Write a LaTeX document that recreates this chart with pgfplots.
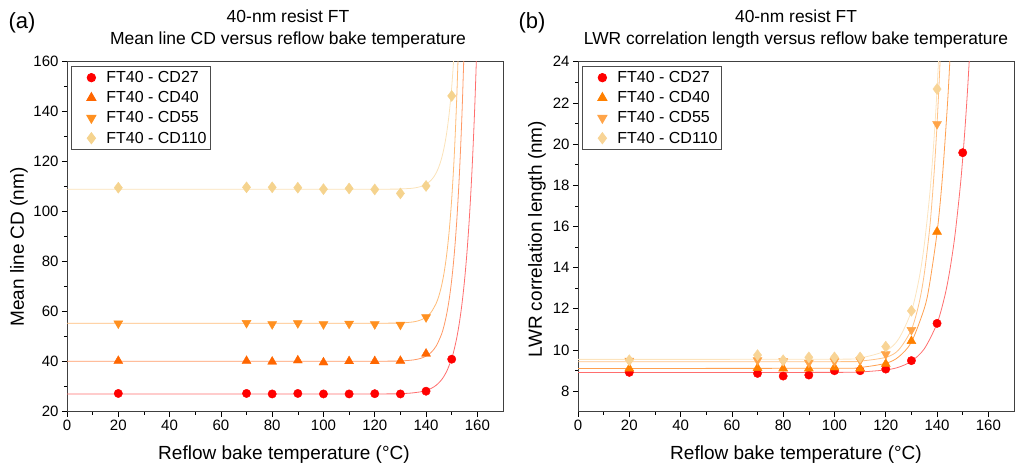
\documentclass[border=0pt]{standalone}
\usepackage{pgfplots}
\pgfplotsset{compat=1.18}
\usepackage{fontspec}
\setmainfont{Liberation Sans}
\definecolor{m27}{HTML}{FF0000}\definecolor{l27}{HTML}{FF6E6E}
\definecolor{m40a}{HTML}{FF6600}\definecolor{l40a}{HTML}{FF9966}
\definecolor{m55a}{HTML}{FF9020}\definecolor{l55a}{HTML}{FFBC78}
\definecolor{m110a}{HTML}{F5D38E}\definecolor{l110a}{HTML}{FBE2B8}
\definecolor{m40b}{HTML}{FF8000}\definecolor{l40b}{HTML}{FFA050}
\definecolor{m55b}{HTML}{FFA448}\definecolor{l55b}{HTML}{FFC286}
\definecolor{m110b}{HTML}{F8D496}\definecolor{l110b}{HTML}{FCE4BE}
\pgfplotsset{
  myaxis/.style={
    scale only axis, width=436pt, height=350pt,
    xmin=0, xmax=170, xtick={0,20,...,160}, minor x tick num=1,
    axis line style={draw=black!75}, tick style={black, line width=0.6pt},
    major tick length=5pt, minor tick length=3pt,
    tick align=outside, xtick pos=bottom, ytick pos=left,
    /pgf/number format/assume math mode=true,
    tick label style={font=\fontsize{15}{15}\selectfont},
    legend cell align=left,
    legend style={at={(0.009,0.988)}, anchor=north west, draw=black!70, line width=0.9pt,
      font=\fontsize{16}{19}\selectfont, inner xsep=2pt, inner ysep=3pt, row sep=3.5pt},
    legend image code/.code={\path[draw=none,fill=none] (0pt,-4pt) rectangle (31pt,4pt); \draw plot coordinates {(18pt,0pt)};},
  },
  fitline/.style={no markers, smooth, line width=0.8pt, forget plot},
}
\begin{document}
\begin{tikzpicture}
\useasboundingbox (0pt,0pt) rectangle (1021pt,470pt);
% ---------- (a)
\begin{axis}[myaxis, at={(67pt,58.3pt)}, anchor=south west,
  ymin=20, ymax=160, ytick={20,40,...,160}, minor y tick num=1]
\addplot[fitline, l27] coordinates {(0,27.1) (120,27.11) (130,27.24) (134,27.44) (138,27.97) (140,28.49) (142,29.31) (144,30.62) (146,32.7) (148,36.02) (150,41.3) (151,45.02) (152,49.71) (153,55.63) (154,63.1) (155,72.5) (156,84.4) (157,99.4) (158,118.35) (159,142.3) (160,172.4)};
\addplot[fitline, l40a] coordinates {(0,40.2) (120,40.21) (130,40.33) (134,40.58) (136,40.87) (138,41.36) (140,42.22) (142,43.72) (144,46.34) (146,50.89) (147,54.32) (148,58.85) (149,64.8) (150,72.7) (151,83.1) (152,96.8) (153,115.0) (154,138.9) (155,170.5)};
\addplot[fitline, l55a] coordinates {(0,55.4) (120,55.41) (130,55.52) (134,55.79) (136,56.11) (138,56.71) (140,57.8) (142,59.8) (144,63.47) (145,66.32) (146,70.18) (147,75.4) (148,82.5) (149,92.1) (150,105.1) (151,122.6) (152,146.5) (153,178.7)};
\addplot[fitline, l110a] coordinates {(0,109.0) (120,109.0) (126,109.03) (130,109.1) (134,109.32) (136,109.59) (138,110.08) (140,110.97) (142,112.61) (143,113.89) (144,115.62) (145,117.97) (146,121.14) (147,125.44) (148,131.25) (149,139.13) (150,149.8) (151,164.2)};
\addplot[only marks, mark=*, mark size=4.2pt, m27, mark options={draw=m27, fill=m27}] coordinates {(20,27.3) (70,27.3) (80,27.1) (90,27.3) (100,27.1) (110,27.1) (120,27.2) (130,27.1) (140,28.2) (150,41.0)};
\addlegendentry{FT40 - CD27}
\addplot[only marks, mark=triangle*, mark size=5.2pt, m40a, mark options={draw=m40a, fill=m40a}] coordinates {(20,40.3) (70,40.3) (80,40.0) (90,40.5) (100,39.7) (110,40.2) (120,40.2) (130,40.3) (140,43.2)};
\addlegendentry{FT40 - CD40}
\addplot[only marks, mark=triangle*, mark size=5.2pt, m55a, mark options={draw=m55a, fill=m55a, rotate=180}] coordinates {(20,55.3) (70,55.5) (80,55.0) (90,55.4) (100,55.0) (110,55.2) (120,55.0) (130,54.8) (140,57.8)};
\addlegendentry{FT40 - CD55}
\addplot[only marks, mark=diamond*, mark size=5.5pt, m110a, mark options={draw=m110a, fill=m110a}] coordinates {(20,109.6) (70,109.75) (80,109.75) (90,109.6) (100,109.0) (110,109.3) (120,108.9) (130,107.3) (140,110.3) (150,146.3)};
\addlegendentry{FT40 - CD110}
\end{axis}
% ---------- (b)
\begin{axis}[myaxis, at={(578pt,58.3pt)}, anchor=south west,
  ymin=7, ymax=24, ytick={8,10,...,24}, minor y tick num=1]
\addplot[fitline, l27] coordinates {(0,8.9) (100,8.91) (110,8.93) (120,9.03) (125,9.16) (130,9.45) (135,10.05) (140,11.29) (143,12.61) (145,13.89) (147,15.59) (149,17.88) (150,19.3) (151,20.95) (152,22.86) (153,25.07)};
\addplot[fitline, l40b] coordinates {(0,9.1) (100,9.11) (110,9.15) (120,9.35) (125,9.66) (130,10.38) (135,12.01) (137,13.14) (140,15.7) (142,18.26) (144,21.82) (145,24.08) (146,26.75)};
\addplot[fitline, l55b] coordinates {(0,9.43) (100,9.43) (110,9.46) (120,9.64) (125,10.0) (130,10.99) (133,12.28) (135,13.68) (137,15.76) (138,17.17) (139,18.88) (140,20.97) (141,23.52) (142,26.65)};
\addplot[fitline, l110b] coordinates {(0,9.54) (100,9.55) (110,9.61) (120,9.96) (125,10.53) (130,11.88) (133,13.47) (135,15.09) (137,17.37) (138,18.84) (139,20.59) (140,22.67) (141,25.14)};
\addplot[only marks, mark=*, mark size=4.2pt, m27, mark options={draw=m27, fill=m27}] coordinates {(20,8.91) (70,8.86) (80,8.73) (90,8.78) (100,8.99) (110,8.99) (120,9.07) (130,9.48) (140,11.29) (150,19.58)};
\addlegendentry{FT40 - CD27}
\addplot[only marks, mark=triangle*, mark size=5.2pt, m40b, mark options={draw=m40b, fill=m40b}] coordinates {(20,9.1) (70,9.12) (80,9.1) (90,9.1) (100,9.15) (110,9.1) (120,9.32) (130,10.43) (140,15.74)};
\addlegendentry{FT40 - CD40}
\addplot[only marks, mark=triangle*, mark size=5.2pt, m55b, mark options={draw=m55b, fill=m55b, rotate=180}] coordinates {(20,9.48) (70,9.5) (80,9.45) (90,9.38) (100,9.45) (110,9.5) (120,9.79) (130,10.97) (140,20.97)};
\addlegendentry{FT40 - CD55}
\addplot[only marks, mark=diamond*, mark size=5.5pt, m110b, mark options={draw=m110b, fill=m110b}] coordinates {(20,9.5) (70,9.75) (80,9.5) (90,9.64) (100,9.64) (110,9.64) (120,10.16) (130,11.9) (140,22.67)};
\addlegendentry{FT40 - CD110}
\end{axis}
% ---------- texts
\node[font=\fontsize{22}{22}\selectfont] at (22pt,447pt) {(a)};
\node[font=\fontsize{22}{22}\selectfont] at (532pt,447pt) {(b)};
\node[font=\fontsize{17.5}{17.5}\selectfont] at (288pt,454pt) {40-nm resist FT};
\node[font=\fontsize{17.5}{17.5}\selectfont] at (288pt,430pt) {Mean line CD versus reflow bake temperature};
\node[font=\fontsize{17.4}{17.4}\selectfont] at (796pt,454pt) {40-nm resist FT};
\node[font=\fontsize{17.4}{17.4}\selectfont] at (796pt,430pt) {LWR correlation length versus reflow bake temperature};
\node[font=\fontsize{19}{19}\selectfont] at (284pt,15pt) {Reflow bake temperature (°C)};
\node[font=\fontsize{19}{19}\selectfont] at (796pt,15pt) {Reflow bake temperature (°C)};
\node[font=\fontsize{19}{19}\selectfont, rotate=90] at (19pt,223pt) {Mean line CD (nm)};
\node[font=\fontsize{19}{19}\selectfont, rotate=90] at (537pt,231pt) {LWR correlation length (nm)};
\end{tikzpicture}
\end{document}
